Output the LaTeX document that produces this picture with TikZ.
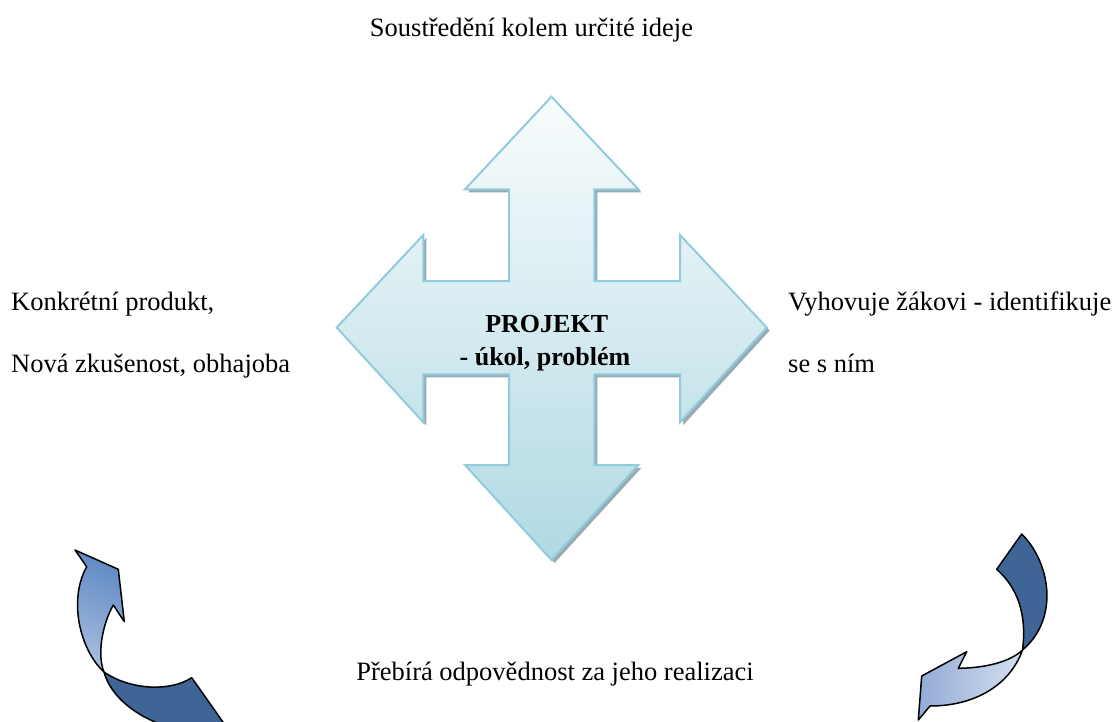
\documentclass[tikz,border=0pt]{standalone}
\usepackage{fontspec}
\setmainfont{Liberation Serif}
\definecolor{crossborder}{HTML}{92CCDB}
\definecolor{crosstop}{HTML}{F9FCFD}
\definecolor{crossbottom}{HTML}{B0D9E3}
\definecolor{crossshadow}{HTML}{97ABB3}
\definecolor{ribbondark}{HTML}{3F6596}
\definecolor{ribbonmid}{HTML}{5E89C3}
\definecolor{ribbonlight}{HTML}{A9BEE0}
\definecolor{ribbonpale}{HTML}{D4DFF0}
\definecolor{ribbonhead}{HTML}{93ABD5}
\tikzset{
  lbl/.style={inner sep=0pt, font=\fontsize{26.5}{30}\selectfont},
  boldlbl/.style={inner sep=0pt, font=\fontsize{26}{30}\selectfont\bfseries},
  ribbonedge/.style={draw=black, line width=1.5pt, line join=round},
}
\def\crossshape{(551.5,96.7) -- (638.3,189.3) -- (594.3,189.3) -- (594.3,281)
  -- (680,281) -- (680,235) -- (766.7,327.5) -- (680,422.3) -- (680,374.3)
  -- (594.3,374.3) -- (594.3,465) -- (638.3,465) -- (551.5,560) -- (465,465)
  -- (509,465) -- (509,374.3) -- (423.3,374.3) -- (423.3,422.3) -- (336.7,327.5)
  -- (423.3,235) -- (423.3,281) -- (509,281) -- (509,189.3) -- (465,189.3) -- cycle}
\begin{document}
\begin{tikzpicture}[x=1pt,y=-1pt]
\useasboundingbox (0,0) rectangle (1118,722);
\fill[white] (0,0) rectangle (1118,722);
\begin{scope}
\clip (0,0) rectangle (1118,722);
% central cross
\fill[crossshadow, shift={(3,3)}] \crossshape;
\shade[top color=crosstop, bottom color=crossbottom, draw=crossborder, line width=2pt, line join=miter] \crossshape;

% left curved arrow: dark lower part
\path[ribbonedge, fill=ribbondark]
  (104,672) .. controls (130,690) and (170,692) .. (191.7,677.7)
  -- (230,732) .. controls (175,740) and (115,712) .. (104,672) -- cycle;
% left curved arrow: light upper part
\shade[ribbonedge, top color=ribbonmid, bottom color=ribbonlight, shading angle=-25]
  (75,550) -- (118.3,569.3) -- (124.3,621.7) -- (113.3,605)
  .. controls (102,625) and (97,655) .. (104,672)
  .. controls (80,650) and (68,600) .. (86.7,566.7) -- cycle;

% right curved arrow: dark upper part
\path[ribbonedge, fill=ribbondark]
  (996.7,569.3) -- (1021.7,534)
  .. controls (1050,562) and (1060,618) .. (1022.5,650)
  .. controls (1027,615) and (1018,588) .. (996.7,569.3) -- cycle;
% right curved arrow: light lower part
\shade[ribbonedge, left color=ribbonhead, right color=ribbonpale]
  (1022.5,650) .. controls (1010,662) and (985,668) .. (958.3,668.3)
  -- (966.7,651.7) -- (921.7,676) -- (918.3,720) -- (930,706)
  .. controls (975,706) and (1010,685) .. (1022.5,650) -- cycle;
\end{scope}

% texts
\node[lbl, anchor=base] (top) at (531.5,36.7) {Soustředění kolem určité ideje};
\node[lbl, anchor=base west] (lefta) at (11,310.5) {Konkrétní produkt,};
\node[lbl, anchor=base west] (leftb) at (11,372) {Nová zkušenost, obhajoba};
\node[lbl, anchor=base west] (righta) at (788,310.5) {Vyhovuje žákovi - identifikuje};
\node[lbl, anchor=base west] (rightb) at (788,372) {se s ním};
\node[boldlbl, anchor=base] (proj) at (546.7,332.7) {PROJEKT};
\node[boldlbl, anchor=base] (projb) at (545,365) {- úkol, problém};
\node[lbl, anchor=base] (bottom) at (555,680) {Přebírá odpovědnost za jeho realizaci};
\end{tikzpicture}
\end{document}
